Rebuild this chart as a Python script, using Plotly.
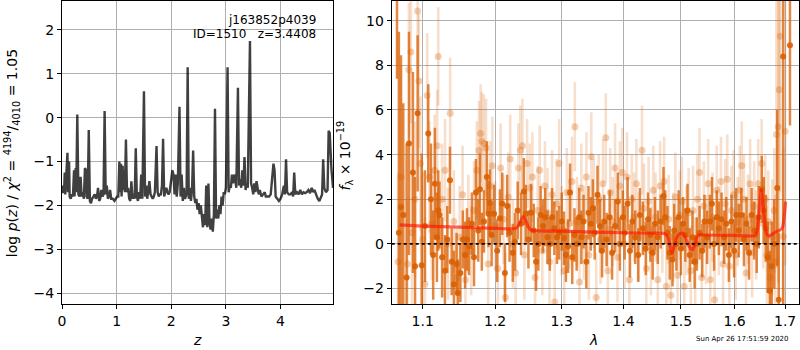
import plotly.graph_objects as go

# ---------------- redshift probability curve ----------------
z_grid = [0.00, 0.02, 0.04, 0.05, 0.06, 0.08, 0.10, 0.11, 0.13, 0.14, 0.16, 0.18, 0.20, 0.22,
          0.23, 0.25, 0.26, 0.28, 0.30, 0.32, 0.34, 0.36, 0.38, 0.40, 0.42, 0.44, 0.45, 0.47,
          0.49, 0.51, 0.53, 0.55, 0.57, 0.60, 0.62, 0.64, 0.66, 0.68, 0.70, 0.72, 0.74, 0.76,
          0.78, 0.80, 0.82, 0.84, 0.86, 0.88, 0.90, 0.93, 0.96, 0.99, 1.01, 1.03, 1.05, 1.06,
          1.08, 1.09, 1.11, 1.12, 1.14, 1.15, 1.17, 1.19, 1.21, 1.23, 1.25, 1.27, 1.29, 1.31,
          1.33, 1.35, 1.37, 1.39, 1.41, 1.43, 1.45, 1.47, 1.50, 1.52, 1.54, 1.56, 1.58, 1.60,
          1.62, 1.64, 1.66, 1.68, 1.70, 1.73, 1.75, 1.77, 1.79, 1.81, 1.83, 1.85, 1.87, 1.89,
          1.91, 1.93, 1.95, 1.97, 2.00, 2.02, 2.04, 2.06, 2.08, 2.10, 2.12, 2.15, 2.17, 2.19,
          2.21, 2.23, 2.25, 2.28, 2.30, 2.32, 2.34, 2.36, 2.38, 2.40, 2.42, 2.44, 2.46, 2.48,
          2.50, 2.52, 2.54, 2.56, 2.58, 2.60, 2.62, 2.64, 2.66, 2.68, 2.70, 2.72, 2.74, 2.76,
          2.78, 2.80, 2.82, 2.84, 2.86, 2.88, 2.90, 2.92, 2.94, 2.96, 2.98, 3.00, 3.03, 3.05,
          3.07, 3.09, 3.11, 3.13, 3.15, 3.17, 3.19, 3.22, 3.24, 3.26, 3.28, 3.30, 3.32, 3.34,
          3.36, 3.38, 3.40, 3.44, 3.46, 3.48, 3.50, 3.52, 3.54, 3.56, 3.58, 3.60, 3.62, 3.65,
          3.68, 3.71, 3.73, 3.76, 3.79, 3.82, 3.85, 3.87, 3.89, 3.91, 3.94, 3.97, 4.00, 4.03,
          4.06, 4.08, 4.10, 4.12, 4.15, 4.18, 4.21, 4.23, 4.25, 4.27, 4.30, 4.33, 4.36, 4.39,
          4.42, 4.45, 4.48, 4.51, 4.54, 4.57, 4.60, 4.62, 4.65, 4.68, 4.71, 4.74, 4.76, 4.78,
          4.80, 4.83, 4.86, 4.88, 4.90, 4.93, 4.96]
logpz = [-1.55, -1.72, -1.60, -1.25, -1.75, -1.30, -0.80, -1.70, -1.00, -1.80, -1.85, -1.75,
         -1.80, -1.20, -1.80, -1.15, -1.70, 0.07, -1.75, -1.80, -1.35, -1.80, -1.70, -1.85,
         -1.15, -1.20, -1.80, -1.85, -0.28, -1.90, -1.95, -1.85, -1.80, -1.75, -1.85, -1.80,
         -1.60, -1.90, -1.85, -1.65, -1.80, -1.75, 0.15, -1.75, -1.55, -1.85, -1.80, -1.65,
         -1.85, -1.85, -1.90, -1.85, -1.80, -1.80, -1.00, -1.70, -1.05, -1.80, -1.10, -1.65,
         -1.20, -1.70, -0.50, -1.70, -1.60, -1.85, -1.90, -1.45, -1.85, -1.75, -1.85, -0.70,
         -1.80, -1.90, -1.70, -1.85, -1.30, -1.85, 0.60, -1.80, -1.55, -1.85, -1.70, -1.45,
         -1.75, -1.80, -1.85, -1.80, -1.70, -0.65, -1.70, -1.80, -1.75, -1.75, -1.55, -0.48,
         -1.80, -1.70, -1.60, -1.70, -1.75, -1.70, -1.45, -1.20, -1.30, -1.75, -1.30, -1.80,
         -1.50, 0.25, -1.80, -1.30, -1.90, -1.60, -1.85, -1.75, 1.15, -1.85, -1.60, -1.90,
         -1.65, -0.75, -1.80, -1.95, -1.85, -2.10, -1.95, -2.20, -2.00, -2.30, -2.50, -2.20,
         -2.45, -1.55, -2.50, -1.50, -2.40, -2.55, -2.30, -2.60, -2.20, 0.20, -2.30, -2.10,
         -2.30, -2.00, -2.20, -1.80, -2.00, -1.70, -1.75, -1.60, 1.15, -1.70, -1.55, -1.60,
         -1.30, -1.50, -1.30, -1.40, -1.60, 0.68, -1.55, -1.40, -1.60, -1.20, -1.55, -0.90,
         -1.65, -1.50, -1.60, 1.75, -1.50, -1.60, -1.75, -1.50, -1.70, -1.45, -1.60, -1.75,
         -1.65, -1.80, -1.75, -1.70, -1.80, -1.80, -1.80, -1.75, -1.20, -1.05, -1.20, -1.80,
         -1.85, -1.90, -1.85, -1.75, -1.55, -1.75, -0.95, -1.70, -1.75, -1.75, -1.70, -1.80,
         -1.25, -1.75, -1.70, -1.75, -1.65, -1.75, -1.70, -1.72, -1.70, -1.65, -1.72, -1.60,
         -1.70, -1.65, -1.75, -1.85, -1.90, -1.80, -1.75, -0.95, -1.60, -1.70, -1.65, -0.30,
         -0.35, -1.15, -1.60]

# ---------------- spectrum: fainter exposures ----------------
lam_faint = [1.0680, 1.0720, 1.0800, 1.0820, 1.0845, 1.0860, 1.0900, 1.0934, 1.0950, 1.0970,
             1.1000, 1.1030, 1.1060, 1.1090, 1.1120, 1.1160, 1.1194, 1.1208, 1.1260, 1.1300,
             1.1340, 1.1370, 1.1420, 1.1460, 1.1500, 1.1540, 1.1580, 1.1620, 1.1660, 1.1700,
             1.1740, 1.1770, 1.1793, 1.1810, 1.1840, 1.1870, 1.1900, 1.1930, 1.1960, 1.2000,
             1.2040, 1.2080, 1.2120, 1.2150, 1.2190, 1.2220, 1.2260, 1.2300, 1.2340, 1.2370,
             1.2400, 1.2430, 1.2470, 1.2510, 1.2550, 1.2590, 1.2630, 1.2660, 1.2700, 1.2740,
             1.2780, 1.2810, 1.2850, 1.2890, 1.2920, 1.2960, 1.3000, 1.3040, 1.3080, 1.3120,
             1.3160, 1.3206, 1.3240, 1.3280, 1.3310, 1.3350, 1.3390, 1.3430, 1.3470, 1.3510,
             1.3550, 1.3590, 1.3620, 1.3660, 1.3706, 1.3740, 1.3780, 1.3820, 1.3860, 1.3900,
             1.3940, 1.3980, 1.4020, 1.4060, 1.4100, 1.4140, 1.4180, 1.4220, 1.4260, 1.4315,
             1.4350, 1.4390, 1.4430, 1.4470, 1.4510, 1.4550, 1.4590, 1.4630, 1.4670, 1.4700,
             1.4740, 1.4780, 1.4820, 1.4860, 1.4900, 1.4940, 1.4980, 1.5020, 1.5060, 1.5100,
             1.5140, 1.5180, 1.5220, 1.5260, 1.5300, 1.5340, 1.5380, 1.5420, 1.5460, 1.5500,
             1.5540, 1.5580, 1.5620, 1.5660, 1.5700, 1.5740, 1.5780, 1.5820, 1.5860, 1.5900,
             1.5940, 1.5980, 1.6020, 1.6060, 1.6100, 1.6137, 1.6180, 1.6220, 1.6260, 1.6300,
             1.6340, 1.6380, 1.6420, 1.6460, 1.6528, 1.6560, 1.6600, 1.6630, 1.6660, 1.6700,
             1.6740, 1.6780, 1.6800, 1.6824, 1.6860, 1.6880, 1.6900, 1.6965, 1.7000]
flux_faint = [-0.8, 3.0, -0.9, 7.8, 8.6, 0.5, 2.0, 10.43, 7.3, 3.6,
              0.2, -1.8, 6.65, 3.0, 0.9, 3.3, 4.4, 8.4, 2.0, 3.3,
              0.0, 5.85, 1.0, -1.5, 0.3, 2.2, -1.6, 0.9, -0.3, 1.5,
              3.3, 4.2, 4.95, 4.6, 4.5, 4.3, -0.9, 2.6, 3.5, 0.8,
              -1.1, 3.4, 1.1, -2.4, 2.1, 3.8, 0.0, -1.3, 3.4, 4.2,
              4.4, -0.5, 3.6, 2.5, 3.0, -1.5, 1.5, 3.3, -0.3, 2.6,
              1.4, -0.8, 2.2, -2.6, 1.8, 3.6, 0.6, -1.2, 2.3, 0.9,
              2.8, 5.25, 1.0, -1.7, 2.5, 0.4, 3.0, -0.5, 3.9, 1.8,
              -2.4, 2.0, 0.2, 2.7, 4.75, -1.2, 2.3, 1.0, 3.4, -0.6,
              2.6, 3.2, 0.0, 3.0, -1.6, 2.0, 1.2, 2.7, 0.3, 4.2,
              1.6, -1.1, 1.9, -0.3, 2.4, 1.2, -1.6, 2.6, 0.7, 2.8,
              -1.9, 1.1, -2.3, 0.3, 2.1, -1.4, 1.3, 1.9, -1.9, 0.6,
              1.4, -1.2, 1.5, -0.8, 2.0, 3.2, -1.5, 1.7, 0.2, 2.7,
              -1.6, 1.2, -2.5, 2.4, 0.6, 2.8, -0.9, 1.8, 2.9, -1.0,
              1.5, 2.2, -0.5, 1.0, 2.4, 3.5, 2.0, -1.3, 1.1, 2.7,
              -0.4, 1.7, 0.4, 2.7, 3.6, 0.9, 2.0, -0.5, 1.0, -1.5,
              0.3, 1.5, -0.8, 4.9, 5.25, 6.9, 9.3, 0.33, 5.05]
err_faint = [4.0, 5.0, 3.0, 3.0, 3.2, 3.5, 3.5, 3.0, 3.0, 3.0,
             3.0, 3.0, 2.8, 2.5, 2.5, 2.5, 2.5, 2.2, 2.5, 2.3,
             2.5, 2.5, 2.3, 2.2, 2.3, 2.2, 2.0, 2.2, 2.0, 2.2,
             2.2, 2.2, 2.2, 2.2, 2.2, 2.2, 2.0, 2.0, 2.2, 2.0,
             2.0, 2.0, 2.0, 2.0, 2.0, 2.0, 2.0, 2.0, 2.0, 2.0,
             2.1, 2.0, 2.0, 2.0, 2.0, 2.0, 2.0, 2.0, 2.0, 2.0,
             2.0, 2.0, 2.0, 2.0, 2.0, 2.0, 2.0, 2.0, 2.0, 2.0,
             2.0, 2.0, 2.0, 2.0, 2.0, 2.0, 2.0, 2.0, 2.0, 2.0,
             2.0, 2.0, 2.0, 2.0, 2.0, 2.0, 2.0, 2.0, 2.0, 2.0,
             2.0, 2.0, 2.0, 2.0, 2.0, 2.0, 2.0, 2.0, 2.0, 2.0,
             2.0, 2.0, 2.0, 2.0, 2.0, 2.0, 2.0, 2.0, 2.0, 2.0,
             2.0, 2.0, 2.0, 2.0, 2.0, 2.0, 2.0, 2.0, 2.0, 2.0,
             2.0, 2.0, 2.0, 2.0, 2.0, 2.0, 2.0, 2.0, 2.0, 2.0,
             2.0, 2.0, 2.0, 2.0, 2.0, 2.0, 2.0, 2.0, 2.0, 2.0,
             2.0, 2.0, 2.0, 2.0, 2.0, 2.0, 2.0, 2.0, 2.0, 2.0,
             2.0, 2.0, 2.0, 2.0, 2.0, 2.0, 2.0, 2.2, 2.3, 2.5,
             2.6, 2.8, 3.0, 6.0, 7.0, 7.0, 7.0, 4.0, 6.0]

# ---------------- spectrum: combined extraction ----------------
lam_main = [1.0666, 1.0690, 1.0717, 1.0747, 1.0790, 1.0821, 1.0872, 1.0900, 1.0934, 1.0987,
            1.1030, 1.1074, 1.1110, 1.1140, 1.1163, 1.1190, 1.1208, 1.1225, 1.1260, 1.1298,
            1.1330, 1.1367, 1.1390, 1.1420, 1.1457, 1.1476, 1.1510, 1.1544, 1.1575, 1.1601,
            1.1630, 1.1670, 1.1700, 1.1727, 1.1760, 1.1783, 1.1810, 1.1840, 1.1882, 1.1905,
            1.1926, 1.1950, 1.1985, 1.2030, 1.2069, 1.2103, 1.2142, 1.2175, 1.2210, 1.2258,
            1.2290, 1.2330, 1.2380, 1.2421, 1.2450, 1.2490, 1.2530, 1.2570, 1.2605, 1.2640,
            1.2675, 1.2710, 1.2745, 1.2780, 1.2815, 1.2850, 1.2885, 1.2925, 1.2960, 1.3000,
            1.3035, 1.3065, 1.3100, 1.3130, 1.3165, 1.3200, 1.3235, 1.3275, 1.3310, 1.3345,
            1.3390, 1.3425, 1.3460, 1.3495, 1.3525, 1.3570, 1.3610, 1.3645, 1.3680, 1.3720,
            1.3770, 1.3810, 1.3860, 1.3905, 1.3940, 1.3990, 1.4020, 1.4070, 1.4110, 1.4150,
            1.4200, 1.4250, 1.4280, 1.4330, 1.4380, 1.4420, 1.4460, 1.4500, 1.4540, 1.4590,
            1.4640, 1.4690, 1.4720, 1.4760, 1.4800, 1.4850, 1.4880, 1.4920, 1.4960, 1.5000,
            1.5040, 1.5080, 1.5120, 1.5160, 1.5210, 1.5250, 1.5290, 1.5340, 1.5390, 1.5430,
            1.5480, 1.5530, 1.5570, 1.5610, 1.5660, 1.5700, 1.5750, 1.5800, 1.5840, 1.5890,
            1.5940, 1.5990, 1.6030, 1.6080, 1.6130, 1.6180, 1.6230, 1.6280, 1.6330, 1.6380,
            1.6430, 1.6470, 1.6530, 1.6570, 1.6610, 1.6650, 1.6690, 1.6730, 1.6780, 1.6840,
            1.6870, 1.6960, 1.7100]
flux_main = [12.0, 0.5, 1.65, 1.30, -1.5, 4.5, 3.2, -1.0, 5.85, -0.95,
             0.8, 4.95, 2.0, -0.5, 2.7, 0.3, 1.5, 1.3, -0.6, -1.2,
             0.2, 2.85, -0.8, -1.8, -0.9, -2.2, -1.3, 0.2, -0.5, 0.2,
             -0.1, 0.9, -0.6, 2.3, 0.6, 2.45, 0.1, 1.0, 3.0, 1.35,
             1.85, 0.4, 1.35, -0.3, 1.15, 1.8, -1.3, 1.7, 0.5, -0.4,
             0.1, 1.5, 0.9, 2.35, 1.35, 0.2, 1.4, 0.6, -0.8, 0.0,
             1.3, 0.8, 1.2, 0.3, 0.0, 1.2, 0.7, 0.3, 0.5, 1.0,
             0.25, -0.5, -0.1, 2.3, -0.6, 0.4, 0.0, 1.2, 0.3, 1.0,
             -0.8, 1.4, 0.9, 1.6, 0.5, 2.2, 0.8, -0.3, 1.0, 0.2,
             1.2, -0.4, 0.8, 1.9, 0.0, 1.2, 0.5, 1.8, -0.3, 1.0,
             0.3, -0.5, 1.3, 0.7, -0.2, 1.1, 0.4, -0.4, 0.9, 0.3,
             1.0, 2.15, 1.2, 0.5, -0.4, -0.7, 0.6, 0.0, 1.2, -0.2,
             0.9, 0.4, 1.5, -0.5, 0.3, -0.8, 0.0, 0.5, -0.3, 1.0,
             0.3, 1.0, 1.8, 0.0, 1.2, 0.7, 1.1, 0.3, 0.9, -0.5,
             1.0, -0.3, 1.3, 0.6, 1.3, 0.2, 0.9, -0.4, 1.3, 0.6,
             0.0, 1.2, 2.45, 1.5, 0.7, -0.6, -2.1, -1.0, 0.0, 2.5,
             -2.5, 8.4, 8.9]
err_main = [4.6, 9.0, 6.8, 5.0, 6.0, 5.0, 4.5, 4.0, 3.5, 5.0,
            2.5, 2.2, 2.5, 2.0, 2.5, 2.0, 1.8, 1.5, 1.8, 1.6,
            1.5, 1.5, 1.5, 1.5, 1.4, 1.5, 1.3, 1.3, 1.5, 1.4,
            1.3, 1.4, 1.3, 1.5, 1.4, 1.6, 1.3, 1.4, 1.6, 1.5,
            1.5, 1.4, 1.3, 1.4, 1.3, 1.4, 1.3, 1.4, 1.3, 1.3,
            1.3, 1.3, 1.4, 1.5, 1.3, 1.3, 1.3, 1.2, 1.3, 1.2,
            1.3, 1.2, 1.3, 1.2, 1.2, 1.3, 1.2, 1.2, 1.2, 1.3,
            1.2, 1.2, 1.2, 1.3, 1.2, 1.2, 1.2, 1.3, 1.2, 1.2,
            1.2, 1.2, 1.2, 1.3, 1.2, 1.3, 1.2, 1.2, 1.2, 1.2,
            1.2, 1.2, 1.2, 1.3, 1.2, 1.2, 1.2, 1.2, 1.2, 1.2,
            1.2, 1.2, 1.2, 1.2, 1.2, 1.2, 1.2, 1.2, 1.2, 1.2,
            1.2, 1.3, 1.2, 1.2, 1.2, 1.2, 1.2, 1.2, 1.2, 1.2,
            1.2, 1.2, 1.2, 1.2, 1.2, 1.2, 1.2, 1.2, 1.2, 1.2,
            1.2, 1.2, 1.2, 1.2, 1.2, 1.2, 1.2, 1.2, 1.2, 1.2,
            1.2, 1.2, 1.2, 1.2, 1.2, 1.2, 1.2, 1.2, 1.2, 1.3,
            1.3, 1.4, 1.5, 1.5, 1.5, 1.6, 1.8, 2.0, 2.0, 3.5,
            3.0, 12.0, 3.6]

# ---------------- best-fit template ----------------
lam_model = [1.070, 1.100, 1.150, 1.200, 1.225, 1.232, 1.237, 1.241, 1.245, 1.249,
             1.253, 1.257, 1.300, 1.350, 1.400, 1.450, 1.470, 1.475, 1.480, 1.484,
             1.488, 1.492, 1.496, 1.500, 1.504, 1.508, 1.512, 1.516, 1.521, 1.525,
             1.529, 1.533, 1.540, 1.600, 1.640, 1.644, 1.648, 1.652, 1.656, 1.660,
             1.664, 1.668, 1.680, 1.694, 1.698, 1.701]
flux_model = [0.85, 0.80, 0.75, 0.70, 0.68, 0.74, 1.00, 1.22, 1.05, 0.75,
              0.62, 0.60, 0.57, 0.53, 0.50, 0.48, 0.47, 0.38, 0.05, -0.42,
              -0.10, 0.25, 0.42, 0.48, 0.45, 0.30, 0.05, -0.15, -0.27, -0.05,
              0.30, 0.40, 0.40, 0.38, 0.38, 0.60, 1.50, 2.45, 1.70, 0.75,
              0.40, 0.36, 0.52, 0.70, 1.20, 1.90]

x_ticks_lam = [1.1, 1.2, 1.3, 1.4, 1.5, 1.6, 1.7]
x_ticklabels_lam = ["1.1", "1.2", "1.3", "1.4", "1.5", "1.6", "1.7"]

ORANGE = "rgba(217,95,2,{a})"
FONT = "DejaVu Sans"

fig = go.Figure()

fig.add_trace(go.Scatter(
    x=z_grid, y=logpz, mode="lines", xaxis="x", yaxis="y",
    line=dict(color="rgba(0,0,0,0.75)", width=2.4), showlegend=False,
))

fig.add_trace(go.Scatter(
    x=lam_faint, y=flux_faint, mode="markers", xaxis="x2", yaxis="y2",
    marker=dict(color=ORANGE.format(a=0.3), size=7, line=dict(width=0)),
    error_y=dict(type="data", array=err_faint, color=ORANGE.format(a=0.2),
                 thickness=2.6, width=0),
    showlegend=False,
))

fig.add_trace(go.Scatter(
    x=lam_main, y=flux_main, mode="markers", xaxis="x2", yaxis="y2",
    marker=dict(color=ORANGE.format(a=0.9), size=6, line=dict(width=0)),
    error_y=dict(type="data", array=err_main, color=ORANGE.format(a=0.75),
                 thickness=2.5, width=0),
    showlegend=False,
))

fig.add_trace(go.Scatter(
    x=lam_model, y=flux_model, mode="lines", xaxis="x2", yaxis="y2",
    line=dict(color="rgba(255,20,0,0.65)", width=3.2, shape="spline", smoothing=0.6),
    showlegend=False,
))

# zero level across the whole spectrum axis
fig.add_shape(type="line", xref="x2 domain", yref="y2", x0=0, x1=1, y0=0, y1=0,
              line=dict(color="black", width=1.8, dash="dot"))

axis_common = dict(
    showgrid=True, gridcolor="#b0b0b0", gridwidth=1,
    showline=True, linecolor="black", linewidth=1, mirror=True,
    ticks="outside", ticklen=4, tickwidth=1, tickcolor="black",
    zeroline=False, tickfont=dict(family=FONT, size=14, color="black"),
)

fig.update_layout(
    width=800, height=350,
    margin=dict(l=62, r=1, t=1, b=46),
    paper_bgcolor="white", plot_bgcolor="white",
    font=dict(family=FONT, size=14, color="black"),
    xaxis=dict(domain=[0, 0.3681], range=[0, 4.965], tickvals=[0, 1, 2, 3, 4],
               anchor="y", **axis_common),
    yaxis=dict(domain=[0, 1], range=[-4.25, 2.66], tickvals=[-4, -3, -2, -1, 0, 1, 2],
               anchor="x", **axis_common),
    xaxis2=dict(domain=[0.4474, 1], type="log", range=[0.02526, 0.2377],
                tickvals=x_ticks_lam, ticktext=x_ticklabels_lam, anchor="y2", **axis_common),
    yaxis2=dict(domain=[0, 1], range=[-2.69, 10.88], tickvals=[-2, 0, 2, 4, 6, 8, 10],
                anchor="x2", **axis_common),
)

annotations = [
    dict(text="j163852p4039", x=0.348, y=0.937, xanchor="right", yanchor="middle",
         font=dict(size=12)),
    dict(text="ID=1510   z=3.4408", x=0.348, y=0.891, xanchor="right", yanchor="middle",
         font=dict(size=12)),
    dict(text="<i>z</i>", x=0.1832, y=-0.118, xanchor="center", yanchor="middle",
         font=dict(size=14)),
    dict(text="<i>λ</i>", x=0.7218, y=-0.118, xanchor="center", yanchor="middle",
         font=dict(size=14)),
    dict(text="log <i>p</i>(<i>z</i>) / <i>χ</i><sup>2</sup> = <sup>4194</sup>/<sub>4010</sub> = 1.05",
         x=-0.0678, y=0.498, xanchor="center", yanchor="middle", textangle=-90,
         font=dict(size=14)),
    dict(text="<i>f</i><sub>λ</sub> × 10<sup>−19</sup>",
         x=0.384, y=0.49, xanchor="center", yanchor="middle", textangle=-90,
         font=dict(size=14)),
    dict(text="Sun Apr 26 17:51:59 2020", x=0.9227, y=-0.1155, xanchor="center",
         yanchor="middle", font=dict(size=7)),
]
for a in annotations:
    fig.add_annotation(xref="paper", yref="paper", showarrow=False, **a)

fig.write_html("out.html")
